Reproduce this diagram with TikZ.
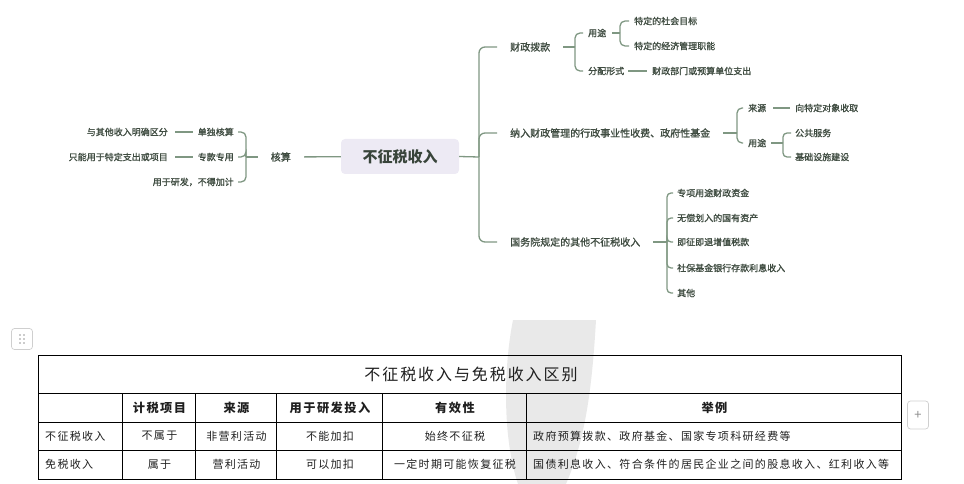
\documentclass[tikz,border=0pt]{standalone}
\usepackage{fontspec}
\setmainfont{Noto Sans CJK SC}
\newfontfamily\mmfont[FakeBold=1.2]{Noto Sans CJK SC}
\newfontfamily\tabfont[LetterSpace=12]{Noto Sans CJK SC}
\usetikzlibrary{calc}

\definecolor{mmtext}{HTML}{3E4B40}
\definecolor{mmline}{HTML}{7F9782}
\definecolor{rootfill}{HTML}{EDEAF4}
\definecolor{markgray}{HTML}{E9E9E9}
\definecolor{uigray}{HTML}{CFCFCF}

\begin{document}
\begin{tikzpicture}[
  x=1pt, y=-1pt,
  mm/.style={text=mmtext, inner sep=0pt, font=\mmfont\fontsize{9}{9}\selectfont},
  topic/.style={mm, font=\mmfont\fontsize{10}{10}\selectfont},
  rootbox/.style={fill=rootfill, rounded corners=4pt, text=mmtext!90!black, inner sep=0pt,
                  minimum width=118pt, minimum height=35pt,
                  font=\fontsize{15}{15}\selectfont\bfseries},
  link/.style={draw=mmline, line width=1.3pt},
  bracket/.style={link, rounded corners=5pt},
  tabline/.style={draw=black, line width=0.9pt},
  cell/.style={inner sep=0pt, text=black!88, font=\tabfont\fontsize{11}{11}\selectfont},
  head/.style={cell, font=\tabfont\fontsize{12.2}{12}\selectfont\bfseries},
  uibtn/.style={draw=uigray, rounded corners=3pt, line width=0.7pt, fill=white,
                minimum width=21pt, minimum height=21pt, inner sep=0pt},
]
\useasboundingbox (0,0) rectangle (964,484);

% ---- watermark behind the table ---------------------------------------
\fill[markgray] (513,320) -- (596,320)
  .. controls (592,390) and (585,440) .. (566,484) -- (518,484)
  .. controls (503,440) and (503,370) .. (513,320);

% ---- root ---------------------------------------------------------------
\node[rootbox] (root) at (400,156.5) {不征税收入};

% ---- left: accounting -----------------------------------------------------
\node[topic, anchor=east] (acct) at (291,157) {核算};
\node[mm, anchor=east] (acctA) at (234,132) {单独核算};
\node[mm, anchor=east] (acctB) at (234,157) {专款专用};
\node[mm, anchor=east] (acctC) at (234,182) {用于研发，不得加计};
\node[mm, anchor=east] (noteA) at (168,132) {与其他收入明确区分};
\node[mm, anchor=east] (noteB) at (168,157) {只能用于特定支出或项目};

% ---- right: three kinds ---------------------------------------------------
\node[topic, anchor=west] (grant) at (510,47) {财政拨款};
\node[mm, anchor=west] (grantUse)   at (588,33) {用途};
\node[mm, anchor=west] (grantUseA)  at (634,21) {特定的社会目标};
\node[mm, anchor=west] (grantUseB)  at (634,46) {特定的经济管理职能};
\node[mm, anchor=west] (grantForm)  at (588,71) {分配形式};
\node[mm, anchor=west] (grantFormA) at (652,71) {财政部门或预算单位支出};

\node[topic, anchor=west] (fee) at (510,133) {纳入财政管理的行政事业性收费、政府性基金};
\node[mm, anchor=west] (feeSrc)  at (748,108) {来源};
\node[mm, anchor=west] (feeSrcA) at (795,108) {向特定对象收取};
\node[mm, anchor=west] (feeUse)  at (748,143) {用途};
\node[mm, anchor=west] (feeUseA) at (795,133) {公共服务};
\node[mm, anchor=west] (feeUseB) at (795,157) {基础设施建设};

\node[topic, anchor=west] (other) at (510,242) {国务院规定的其他不征税收入};
\node[mm, anchor=west] (otherA) at (677,193) {专项用途财政资金};
\node[mm, anchor=west] (otherB) at (677,218) {无偿划入的国有资产};
\node[mm, anchor=west] (otherC) at (677,242) {即征即退增值税款};
\node[mm, anchor=west] (otherD) at (677,268) {社保基金银行存款利息收入};
\node[mm, anchor=west] (otherE) at (677,293) {其他};

% ---- connectors: trunk ----------------------------------------------------
\coordinate (trunk) at (479,157);
\draw[link] (root.east) -- (trunk);
\foreach \b in {grant,fee,other}
  \draw[link, rounded corners=6pt, shorten >=13pt] (trunk) |- (\b.west);

% left side
\coordinate (acctBr) at (246,157);
\draw[link, shorten >=13pt] (root) -- (acct);
\draw[link, shorten <=13pt] (acct.west) -- (acctBr);
\foreach \c in {acctA,acctB,acctC}
  \draw[bracket, shorten >=4pt] (acctBr) |- (\c.east);
\draw[link, shorten <=5pt, shorten >=7pt] (acctA) -- (noteA);
\draw[link, shorten <=5pt, shorten >=7pt] (acctB) -- (noteB);

% 财政拨款
\coordinate (grantBr) at (575,47);
\draw[link, shorten <=13pt] (grant.east) -- (grantBr);
\foreach \c in {grantUse,grantForm}
  \draw[bracket, shorten >=5pt] (grantBr) |- (\c.west);
\coordinate (grantUseBr) at (620,33);
\draw[link, shorten <=6pt] (grantUse.east) -- (grantUseBr);
\foreach \c in {grantUseA,grantUseB}
  \draw[bracket, shorten >=5pt] (grantUseBr) |- (\c.west);
\draw[link, shorten <=4pt, shorten >=5pt] (grantForm) -- (grantFormA);

% 行政事业性收费
\coordinate (feeBr) at (737,133);
\draw[link, shorten <=13pt] (fee.east) -- (feeBr);
\foreach \c in {feeSrc,feeUse}
  \draw[bracket, shorten >=5pt] (feeBr) |- (\c.west);
\draw[link, shorten <=7pt, shorten >=5pt] (feeSrc) -- (feeSrcA);
\coordinate (feeUseBr) at (783,143);
\draw[link, shorten <=5pt] (feeUse.east) -- (feeUseBr);
\foreach \c in {feeUseA,feeUseB}
  \draw[bracket, rounded corners=4pt, shorten >=4pt] (feeUseBr) |- (\c.west);

% 其他
\coordinate (otherBr) at (667,242);
\draw[link, shorten <=13pt] (other.east) -- (otherBr);
\foreach \c in {otherA,otherB,otherC,otherD,otherE}
  \draw[bracket, rounded corners=4pt, shorten >=4pt] (otherBr) |- (\c.west);

% ---- editor buttons -------------------------------------------------------
\node[uibtn] (grip) at (22,339) {};
\foreach \dx in {-2,2} \foreach \dy in {-4,0,4}
  \fill[black!40] ($(grip)+(\dx,\dy)$) circle (0.8pt);
\node[uibtn, minimum height=28pt, text=black!45, font=\fontsize{13}{13}\selectfont]
  (addcol) at (918,415) {+};

% ---- comparison table -----------------------------------------------------
\draw[tabline] (38,355) rectangle (901,479);
\foreach \y in {393,422,450} \draw[tabline] (38,\y) -- (901,\y);
\foreach \x in {122,195,276,382,526} \draw[tabline] (\x,393) -- (\x,479);

\node[cell, font=\tabfont\fontsize{16}{16}\selectfont] (tabTitle) at (471,374) {不征税收入与免税收入区别};

\node[head] (hdItem)    at (159.5,407.5) {计税项目};
\node[head] (hdSource)  at (236.5,407.5) {来源};
\node[head] (hdRD)      at (330,407.5)   {用于研发投入};
\node[head] (hdValid)   at (455,407.5)   {有效性};
\node[head] (hdExample) at (714.5,407.5) {举例};

\node[cell, anchor=west] (rowA)   at (45,436) {不征税收入};
\node[cell] (rowAItem)  at (159.5,436) {不属于};
\node[cell] (rowASrc)   at (236.5,436) {非营利活动};
\node[cell] (rowARD)    at (330,436)   {不能加扣};
\node[cell] (rowAValid) at (455,436)   {始终不征税};
\node[cell, anchor=west] (rowAEx) at (533,436) {政府预算拨款、政府基金、国家专项科研经费等};

\node[cell, anchor=west] (rowB)   at (45,464.5) {免税收入};
\node[cell] (rowBItem)  at (159.5,464.5) {属于};
\node[cell] (rowBSrc)   at (236.5,464.5) {营利活动};
\node[cell] (rowBRD)    at (330,464.5)   {可以加扣};
\node[cell] (rowBValid) at (455,464.5)   {一定时期可能恢复征税};
\node[cell, anchor=west] (rowBEx) at (533,464.5) {国债利息收入、符合条件的居民企业之间的股息收入、红利收入等};

\end{tikzpicture}
\end{document}
